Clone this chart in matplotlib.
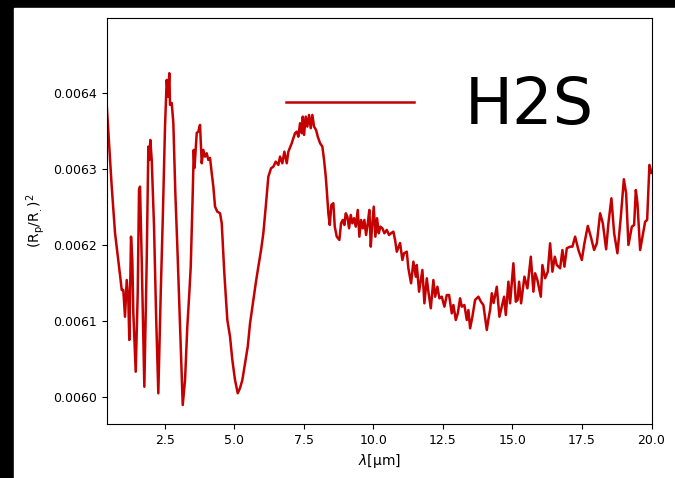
import numpy as np
import matplotlib
matplotlib.use("Agg")
import matplotlib.pyplot as plt
from matplotlib.patches import Rectangle

# transmission spectrum, H2S only
wavelength = [
    0.400, 0.587, 0.706, 0.824, 0.886, 0.947, 1.004, 1.065, 1.127, 1.184,
    1.220, 1.281, 1.328, 1.364, 1.450, 1.522, 1.569, 1.605, 1.666, 1.760,
    1.846, 1.904, 1.940, 1.976, 2.026, 2.109, 2.181, 2.263, 2.350, 2.422,
    2.504, 2.565, 2.612, 2.659, 2.684, 2.745, 2.803, 2.875, 2.947, 3.044,
    3.141, 3.224, 3.306, 3.378, 3.429, 3.501, 3.537, 3.565, 3.645, 3.702,
    3.763, 3.824, 3.882, 3.943, 4.004, 4.062, 4.123, 4.184, 4.242, 4.303,
    4.386, 4.483, 4.544, 4.637, 4.745, 4.842, 4.925, 5.022, 5.119, 5.202,
    5.285, 5.382, 5.479, 5.562, 5.681, 5.767, 5.860, 5.958, 6.040, 6.127,
    6.220, 6.317, 6.400, 6.486, 6.580, 6.641, 6.724, 6.796, 6.882, 6.940,
    7.062, 7.098, 7.181, 7.242, 7.299, 7.360, 7.422, 7.458, 7.504, 7.565,
    7.623, 7.684, 7.745, 7.803, 7.864, 7.936, 7.997, 8.080, 8.163, 8.224,
    8.285, 8.321, 8.378, 8.429, 8.486, 8.558, 8.609, 8.681, 8.774, 8.835,
    8.896, 8.954, 9.004, 9.062, 9.123, 9.184, 9.242, 9.303, 9.364, 9.436,
    9.494, 9.555, 9.616, 9.673, 9.735, 9.796, 9.853, 9.904, 9.950, 10.011,
    10.069, 10.130, 10.191, 10.249, 10.321, 10.393, 10.479, 10.562, 10.634, 10.716,
    10.778, 10.839, 10.958, 11.040, 11.101, 11.198, 11.256, 11.353, 11.436, 11.522,
    11.558, 11.641, 11.760, 11.832, 11.918, 11.976, 12.062, 12.155, 12.217, 12.299,
    12.371, 12.458, 12.551, 12.637, 12.720, 12.817, 12.875, 12.961, 13.033, 13.116,
    13.177, 13.271, 13.357, 13.414, 13.476, 13.558, 13.655, 13.774, 13.871, 13.954,
    14.076, 14.141, 14.195, 14.256, 14.321, 14.436, 14.530, 14.616, 14.699, 14.760,
    14.853, 14.914, 15.033, 15.119, 15.184, 15.238, 15.310, 15.429, 15.537, 15.659,
    15.753, 15.814, 15.896, 16.019, 16.076, 16.173, 16.270, 16.353, 16.436, 16.522,
    16.594, 16.713, 16.796, 16.868, 16.954, 17.073, 17.155, 17.253, 17.371, 17.494,
    17.587, 17.709, 17.817, 17.936, 18.033, 18.152, 18.249, 18.368, 18.450, 18.558,
    18.656, 18.774, 18.897, 19.005, 19.087, 19.170, 19.292, 19.375, 19.436, 19.494,
    19.591, 19.674, 19.771, 19.843, 19.925, 20.000,
]

depth = [
    0.0063882, 0.0062766, 0.0062158, 0.0061803, 0.0061606, 0.0061409, 0.0061409, 0.0061058, 0.0061540, 0.0061278,
    0.0060753, 0.0062109, 0.0061803, 0.0061107, 0.0060336, 0.0061370, 0.0062722, 0.0062766, 0.0061803, 0.0060139,
    0.0061803, 0.0063291, 0.0063116, 0.0063379, 0.0063116, 0.0062240, 0.0061107, 0.0060053, 0.0061370, 0.0062328,
    0.0063554, 0.0064167, 0.0063948, 0.0064255, 0.0063839, 0.0063865, 0.0063602, 0.0062683, 0.0061978, 0.0060927,
    0.0059899, 0.0060227, 0.0060927, 0.0061370, 0.0061715, 0.0062683, 0.0063248, 0.0063011, 0.0063471, 0.0063488,
    0.0063576, 0.0063073, 0.0063248, 0.0063160, 0.0063204, 0.0063116, 0.0063143, 0.0062942, 0.0062766, 0.0062503,
    0.0062437, 0.0062416, 0.0062285, 0.0061628, 0.0061015, 0.0060796, 0.0060490, 0.0060227, 0.0060053, 0.0060122,
    0.0060227, 0.0060447, 0.0060665, 0.0060972, 0.0061278, 0.0061497, 0.0061715, 0.0061934, 0.0062154, 0.0062503,
    0.0062897, 0.0063007, 0.0063028, 0.0063094, 0.0063051, 0.0063160, 0.0063073, 0.0063225, 0.0063073, 0.0063225,
    0.0063336, 0.0063379, 0.0063467, 0.0063488, 0.0063422, 0.0063598, 0.0063467, 0.0063685, 0.0063445, 0.0063685,
    0.0063554, 0.0063707, 0.0063533, 0.0063707, 0.0063554, 0.0063510, 0.0063422, 0.0063336, 0.0063291, 0.0063116,
    0.0062897, 0.0062722, 0.0062416, 0.0062263, 0.0062525, 0.0062548, 0.0062240, 0.0062109, 0.0062066, 0.0062285,
    0.0062328, 0.0062263, 0.0062416, 0.0062372, 0.0062219, 0.0062394, 0.0062285, 0.0062351, 0.0062240, 0.0062460,
    0.0062109, 0.0062328, 0.0062219, 0.0062328, 0.0062131, 0.0062285, 0.0062460, 0.0061978, 0.0062240, 0.0062503,
    0.0062109, 0.0062351, 0.0062154, 0.0062240, 0.0062219, 0.0062154, 0.0062197, 0.0062131, 0.0062154, 0.0062175,
    0.0062066, 0.0061912, 0.0062026, 0.0061803, 0.0061891, 0.0061912, 0.0061694, 0.0061497, 0.0061781, 0.0061584,
    0.0061737, 0.0061387, 0.0061672, 0.0061234, 0.0061563, 0.0061387, 0.0061169, 0.0061540, 0.0061321, 0.0061452,
    0.0061300, 0.0061321, 0.0061190, 0.0061343, 0.0061343, 0.0061103, 0.0061212, 0.0061015, 0.0061103, 0.0061300,
    0.0061190, 0.0061212, 0.0061015, 0.0061146, 0.0060906, 0.0061058, 0.0061278, 0.0061321, 0.0061252, 0.0061212,
    0.0060884, 0.0061041, 0.0061146, 0.0061366, 0.0061238, 0.0061452, 0.0061058, 0.0061190, 0.0061321, 0.0061081,
    0.0061518, 0.0061234, 0.0061760, 0.0061255, 0.0061278, 0.0061518, 0.0061234, 0.0061584, 0.0061431, 0.0061846,
    0.0061387, 0.0061628, 0.0061540, 0.0061321, 0.0061737, 0.0061563, 0.0061649, 0.0062022, 0.0061649, 0.0061846,
    0.0061737, 0.0061694, 0.0061934, 0.0061715, 0.0061957, 0.0061978, 0.0061978, 0.0062109, 0.0061934, 0.0061803,
    0.0062022, 0.0062250, 0.0062109, 0.0061934, 0.0062022, 0.0062416, 0.0062285, 0.0061944, 0.0062285, 0.0062613,
    0.0062154, 0.0061891, 0.0062372, 0.0062863, 0.0062679, 0.0062000, 0.0062240, 0.0062263, 0.0062722, 0.0062548,
    0.0061934, 0.0062109, 0.0062306, 0.0062328, 0.0063051, 0.0062946,
]

label = "H2S"

fig = plt.figure(figsize=(6.75, 4.78), dpi=100, facecolor="black")
fig.add_artist(Rectangle((14 / 675, 0), 1 - 14 / 675, 470 / 478,
                         transform=fig.transFigure, color="white", zorder=-1))

ax = fig.add_axes([0.1578, 0.1130, 0.8074, 0.8494])
ax.plot(wavelength, depth, color="#c40000", lw=1.8, label=label)

ax.set_xlim(wavelength[0], wavelength[-1])
ax.set_ylim(0.005965, 0.006498)
ax.set_xticks([2.5, 5.0, 7.5, 10.0, 12.5, 15.0, 17.5, 20.0])
ax.set_yticks([0.0060, 0.0061, 0.0062, 0.0063, 0.0064])
ax.tick_params(labelsize=9)

ax.set_xlabel(r"$\lambda$[μm]", fontsize=10)
ax.set_ylabel(r"$(\mathrm{R_p/R_.})^2$", fontsize=10)

ax.legend(loc="upper right", fontsize=46, frameon=False)

fig.savefig("out.png", dpi=100, facecolor=fig.get_facecolor())
